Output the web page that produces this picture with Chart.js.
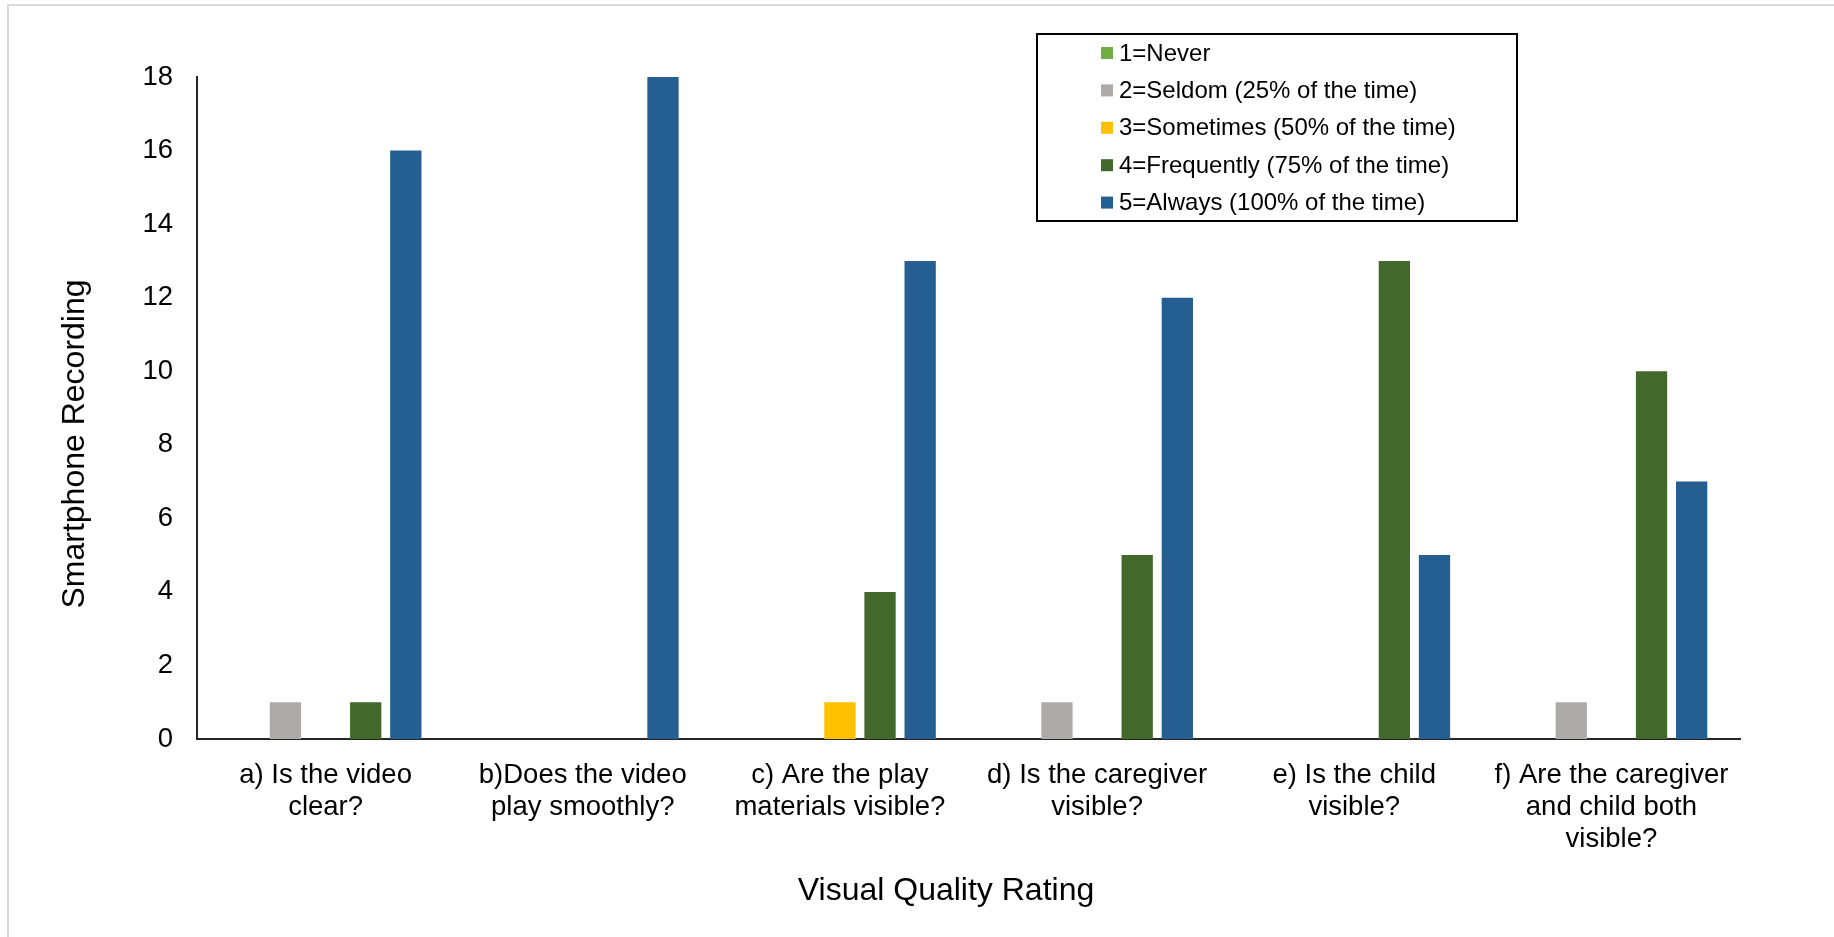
<!DOCTYPE html>
<html>
<head>
<meta charset="utf-8">
<title>Smartphone Recording – Visual Quality Rating</title>
<script src="https://cdn.jsdelivr.net/npm/chart.js@4"></script>
<style>
  html, body { margin: 0; padding: 0; background: #ffffff; }
  #wrap { width: 1834px; height: 937px; }
</style>
</head>
<body>
<div id="wrap"><canvas id="chart" width="1834" height="937"></canvas></div>
<script>
// Questions (x-axis categories), multi-line labels
const categories = [
  ["a) Is the video", "clear?"],
  ["b)Does the video", "play smoothly?"],
  ["c) Are the play", "materials visible?"],
  ["d) Is the caregiver", "visible?"],
  ["e) Is the child", "visible?"],
  ["f) Are the caregiver", "and child both", "visible?"]
];

// Rating names
const ratingLabels = [
  "1=Never",
  "2=Seldom (25% of the time)",
  "3=Sometimes (50% of the time)",
  "4=Frequently (75% of the time)",
  "5=Always (100% of the time)"
];

// Counts per question for each rating
const never      = [0, 0, 0, 0, 0, 0];
const seldom     = [1, 0, 0, 1, 0, 1];
const sometimes  = [0, 0, 1, 0, 0, 0];
const frequently = [1, 0, 4, 5, 13, 10];
const always     = [16, 18, 13, 12, 5, 7];

// Y-axis ticks
const yTicks = [0, 2, 4, 6, 8, 10, 12, 14, 16, 18];

const ratingColors = ["#70AD47", "#ADAAA9", "#FFC000", "#43682B", "#255E91"];
const seriesValues = [never, seldom, sometimes, frequently, always];

const FONT = "'Liberation Sans', Arial, Helvetica, sans-serif";

const datasets = seriesValues.map((vals, i) => ({
  label: ratingLabels[i],
  data: vals,
  backgroundColor: ratingColors[i],
  borderWidth: 0,
  categoryPercentage: 0.78,
  barPercentage: 0.78
}));

// White page with a light frame on the top and left edges
const pageFrame = {
  id: 'pageFrame',
  beforeDraw(chart) {
    const ctx = chart.ctx;
    ctx.save();
    ctx.fillStyle = '#ffffff';
    ctx.fillRect(0, 0, chart.width, chart.height);
    ctx.strokeStyle = '#D9D9D9';
    ctx.lineWidth = 2;
    ctx.beginPath();
    ctx.moveTo(8, chart.height);
    ctx.lineTo(8, 5);
    ctx.lineTo(chart.width, 5);
    ctx.stroke();
    ctx.restore();
  }
};

// Axis titles
const axisTitles = {
  id: 'axisTitles',
  afterDraw(chart) {
    const ctx = chart.ctx;
    ctx.save();
    ctx.fillStyle = '#000000';
    ctx.font = '32px ' + FONT;
    ctx.textAlign = 'center';
    ctx.textBaseline = 'middle';
    ctx.fillText('Visual Quality Rating', 946, 891);
    ctx.translate(75, 444);
    ctx.rotate(-Math.PI / 2);
    ctx.fillText('Smartphone Recording', 0, 0);
    ctx.restore();
  }
};

// Boxed legend in the upper right
const boxedLegend = {
  id: 'boxedLegend',
  afterDraw(chart) {
    const ctx = chart.ctx;
    const box = { x: 1037, y: 34, w: 480, h: 187 };
    ctx.save();
    ctx.strokeStyle = '#000000';
    ctx.lineWidth = 2;
    ctx.strokeRect(box.x, box.y, box.w, box.h);
    ctx.font = '24px ' + FONT;
    ctx.textAlign = 'left';
    ctx.textBaseline = 'middle';
    chart.data.datasets.forEach((ds, i) => {
      const cy = 53 + i * 37.4;
      ctx.fillStyle = ds.backgroundColor;
      ctx.fillRect(1101, cy - 6, 12, 12);
      ctx.fillStyle = '#000000';
      ctx.fillText(ds.label, 1119, cy + 1);
    });
    ctx.restore();
  }
};

new Chart(document.getElementById('chart'), {
  type: 'bar',
  data: { labels: categories, datasets: datasets },
  plugins: [pageFrame, axisTitles, boxedLegend],
  options: {
    responsive: false,
    animation: false,
    devicePixelRatio: 1,
    layout: { padding: { top: 77, right: 94, left: 0, bottom: 0 } },
    plugins: {
      legend: { display: false },
      title: { display: false },
      tooltip: { enabled: false }
    },
    scales: {
      x: {
        grid: { display: false, drawTicks: false },
        border: { display: true, color: '#262626', width: 2 },
        ticks: {
          color: '#000000',
          font: { family: FONT, size: 27.5, lineHeight: 1.15 },
          padding: 21,
          maxRotation: 0,
          autoSkip: false
        },
        afterFit(scale) { scale.height = 198; }
      },
      y: {
        min: 0,
        max: 18,
        grid: { display: false, drawTicks: false },
        border: { display: true, color: '#262626', width: 2 },
        afterBuildTicks(scale) { scale.ticks = yTicks.map(v => ({ value: v })); },
        ticks: {
          color: '#000000',
          font: { family: FONT, size: 27.5 },
          padding: 24
        },
        afterFit(scale) { scale.width = 197; }
      }
    }
  }
});
</script>
</body>
</html>
